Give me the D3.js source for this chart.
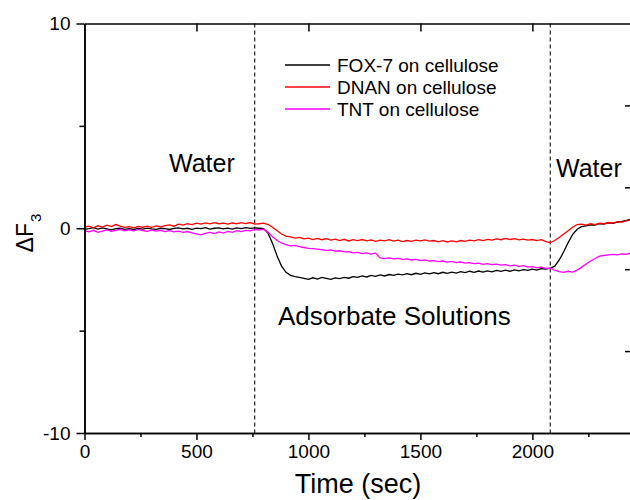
<!DOCTYPE html>
<html>
<head>
<meta charset="utf-8">
<script src="https://cdn.jsdelivr.net/npm/d3@7"></script>
<style>
  body { margin: 0; background: #fff; }
  svg { font-family: "Liberation Sans", Arial, sans-serif; }
  .axis path, .axis line { stroke: #000; stroke-width: 1.5px; }
  .axis text { fill: #000; font-size: 19px; }
</style>
</head>
<body>
<svg id="chart" width="630" height="500"></svg>
<script>
// sample times (s), one reading every 20 s
var times = d3.range(0, 2441, 20);

var fox7 = [
  -0.05, -0.02, 0.03, -0.04, 0.02, -0.03, -0.08, -0.02, 0.00, -0.05,
  -0.02, -0.06, -0.01, -0.04, 0.01, -0.03, -0.05, 0.00, -0.02, -0.06,
  -0.01, 0.02, -0.03, 0.00, -0.05, 0.01, -0.02, 0.03, -0.04, 0.00,
  0.02, -0.03, 0.01, -0.04, 0.02, -0.02, 0.03, -0.01, 0.02, 0.00,
  -0.02, -0.25, -0.75, -1.35, -1.85, -2.15, -2.30, -2.36, -2.40, -2.45,
  -2.50, -2.42, -2.48, -2.40, -2.45, -2.50, -2.42, -2.46, -2.40, -2.44,
  -2.36, -2.40, -2.33, -2.38, -2.30, -2.35, -2.28, -2.33, -2.26, -2.30,
  -2.24, -2.28, -2.22, -2.27, -2.20, -2.25, -2.18, -2.23, -2.17, -2.22,
  -2.15, -2.20, -2.14, -2.19, -2.12, -2.17, -2.10, -2.15, -2.09, -2.14,
  -2.08, -2.13, -2.06, -2.11, -2.05, -2.10, -2.03, -2.08, -2.02, -2.06,
  -2.00, -2.04, -1.97, -2.00, -1.95, -1.85, -1.55, -1.15, -0.70, -0.30,
  -0.05, 0.08, 0.12, 0.16, 0.15, 0.22, 0.20, 0.26, 0.24, 0.30,
  0.33, 0.38, 0.44
];

var dnan = [
  0.05, 0.10, 0.02, 0.12, 0.06, 0.15, 0.08, 0.18, 0.10, 0.04,
  0.08, 0.02, 0.09, 0.05, 0.10, 0.04, 0.11, 0.07, 0.13, 0.16,
  0.10, 0.20, 0.15, 0.22, 0.18, 0.25, 0.20, 0.26, 0.21, 0.27,
  0.22, 0.25, 0.20, 0.26, 0.22, 0.27, 0.23, 0.28, 0.20, 0.22,
  0.25, 0.18, 0.05, -0.12, -0.28, -0.38, -0.42, -0.48, -0.45, -0.52,
  -0.48, -0.55, -0.50, -0.56, -0.51, -0.58, -0.53, -0.60, -0.54, -0.62,
  -0.56, -0.60, -0.55, -0.62, -0.57, -0.64, -0.58, -0.62, -0.56, -0.63,
  -0.58, -0.65, -0.60, -0.64, -0.58, -0.62, -0.57, -0.63, -0.60, -0.66,
  -0.61, -0.67, -0.62, -0.66, -0.60, -0.64, -0.58, -0.62, -0.56, -0.60,
  -0.54, -0.58, -0.52, -0.56, -0.50, -0.55, -0.51, -0.57, -0.53, -0.58,
  -0.55, -0.60, -0.56, -0.65, -0.70, -0.60, -0.45, -0.28, -0.12, 0.05,
  0.18, 0.20, 0.15, 0.22, 0.18, 0.25, 0.22, 0.28, 0.25, 0.32,
  0.30, 0.36, 0.42
];

var tnt = [
  -0.12, -0.18, -0.10, -0.20, -0.14, -0.08, -0.15, -0.10, -0.05, -0.12,
  -0.08, -0.13, -0.06, -0.11, -0.15, -0.09, -0.14, -0.10, -0.16, -0.12,
  -0.18, -0.14, -0.20, -0.16, -0.22, -0.28, -0.32, -0.25, -0.20, -0.26,
  -0.18, -0.24, -0.15, -0.20, -0.12, -0.16, -0.10, -0.13, -0.06, -0.08,
  -0.05, -0.20, -0.42, -0.60, -0.72, -0.80, -0.86, -0.84, -0.90, -0.94,
  -0.98, -1.00, -1.02, -1.05, -1.08, -1.06, -1.12, -1.10, -1.15, -1.14,
  -1.20, -1.18, -1.24, -1.20, -1.26, -1.22, -1.45, -1.48, -1.45, -1.50,
  -1.47, -1.52, -1.50, -1.55, -1.52, -1.58, -1.55, -1.60, -1.58, -1.63,
  -1.60, -1.65, -1.62, -1.68, -1.65, -1.70, -1.68, -1.73, -1.70, -1.76,
  -1.73, -1.78, -1.75, -1.80, -1.78, -1.84, -1.80, -1.86, -1.83, -1.90,
  -1.87, -1.93, -1.90, -1.96, -1.95, -2.05, -2.12, -2.15, -2.10, -2.14,
  -2.05, -1.90, -1.75, -1.60, -1.48, -1.36, -1.33, -1.30, -1.28, -1.30,
  -1.25, -1.27, -1.22
];

var seriesNames = ["FOX-7 on cellulose", "DNAN on cellulose", "TNT on cellulose"];
var seriesColors = ["#000000", "#ff0000", "#ff00ff"];
var seriesValues = [fox7, dnan, tnt];

var xMajor = [0, 500, 1000, 1500, 2000];
var xMinor = [250, 750, 1250, 1750, 2250];
var yMajor = [-10, 0, 10];
var yMinor = [-5, 5];
var rightTicks = [1, 2, 3, 4];   // cut-off second axis on the right
var switchTimes = [760, 2080];   // solution changes

var svg = d3.select("#chart");
var pLeft = 84.5, pTop = 23.5, pBottom = 433, pRight = 630;

var x = d3.scaleLinear().domain([0, 2436]).range([pLeft, pRight]);
var y = d3.scaleLinear().domain([-10, 10]).range([pBottom, pTop]);
var yR = d3.scaleLinear().domain([0, 5]).range([pBottom, pTop]);

svg.append("clipPath").attr("id", "plot")
  .append("rect").attr("x", pLeft).attr("y", pTop)
  .attr("width", pRight - pLeft).attr("height", pBottom - pTop);

// dashed markers
svg.selectAll(".switch")
  .data(switchTimes)
  .enter()
  .append("line")
  .attr("class", "switch")
  .attr("x1", function(d) { return x(d); })
  .attr("x2", function(d) { return x(d); })
  .attr("y1", pTop)
  .attr("y2", pBottom)
  .attr("stroke", "#222")
  .attr("stroke-width", 1.2)
  .attr("stroke-dasharray", "4,3");

// data lines
var line = d3.line()
  .x(function(d, i) { return x(times[i]); })
  .y(function(d) { return y(d); });

svg.append("g").attr("clip-path", "url(#plot)")
  .selectAll(".trace")
  .data(seriesValues)
  .enter()
  .append("path")
  .attr("class", "trace")
  .attr("fill", "none")
  .attr("stroke", function(d, i) { return seriesColors[i]; })
  .attr("stroke-width", 1.3)
  .attr("d", line);

// axes (plain hyphen for negatives, no thousands separator)
var fmt = function(d) { return String(d); };
svg.append("g").attr("class", "axis")
  .attr("transform", "translate(0," + pBottom + ")")
  .call(d3.axisBottom(x).tickValues(xMajor).tickSize(7).tickSizeOuter(0).tickPadding(5).tickFormat(fmt));
svg.append("g").attr("class", "axis")
  .attr("transform", "translate(0," + pBottom + ")")
  .call(d3.axisBottom(x).tickValues(xMinor).tickSize(4).tickSizeOuter(0).tickFormat(""));

svg.append("g").attr("class", "axis")
  .attr("transform", "translate(0," + pTop + ")")
  .call(d3.axisBottom(x).tickValues(xMajor.slice(1)).tickSize(8).tickSizeOuter(0).tickFormat(""));

svg.append("g").attr("class", "axis")
  .attr("transform", "translate(" + pLeft + ",0)")
  .call(d3.axisLeft(y).tickValues(yMajor).tickSize(8).tickSizeOuter(0).tickPadding(6).tickFormat(fmt));
svg.append("g").attr("class", "axis")
  .attr("transform", "translate(" + pLeft + ",0)")
  .call(d3.axisLeft(y).tickValues(yMinor).tickSize(5).tickSizeOuter(0).tickFormat(""));

svg.append("g").attr("class", "axis")
  .attr("transform", "translate(" + (pRight + 1) + ",0)")
  .call(d3.axisLeft(yR).tickValues(rightTicks).tickSize(6).tickSizeOuter(0).tickFormat(""));

// labels
svg.append("text")
  .attr("x", 358).attr("y", 493)
  .attr("text-anchor", "middle")
  .attr("font-size", 27)
  .text("Time (sec)");

var yl = svg.append("text")
  .attr("transform", "translate(33,233) rotate(-90)")
  .attr("text-anchor", "middle")
  .attr("font-size", 23);
yl.append("tspan").text("\u0394F");
yl.append("tspan").attr("font-size", 15).attr("dy", 8).attr("dx", 1).text("3");

svg.append("text").attr("x", 169).attr("y", 172).attr("font-size", 25).text("Water");
svg.append("text").attr("x", 556).attr("y", 177).attr("font-size", 25).text("Water");
svg.append("text").attr("x", 278).attr("y", 325).attr("font-size", 26).text("Adsorbate Solutions");

// legend
var legend = svg.selectAll(".legend")
  .data(seriesNames)
  .enter()
  .append("g")
  .attr("class", "legend")
  .attr("transform", function(d, i) { return "translate(285," + (65 + i * 22) + ")"; });
legend.append("line")
  .attr("x1", 0).attr("x2", 45)
  .attr("stroke", function(d, i) { return seriesColors[i]; })
  .attr("stroke-width", 1.5);
legend.append("text")
  .attr("x", 52).attr("y", 6.5)
  .attr("font-size", 19)
  .text(function(d) { return d; });
</script>
</body>
</html>
